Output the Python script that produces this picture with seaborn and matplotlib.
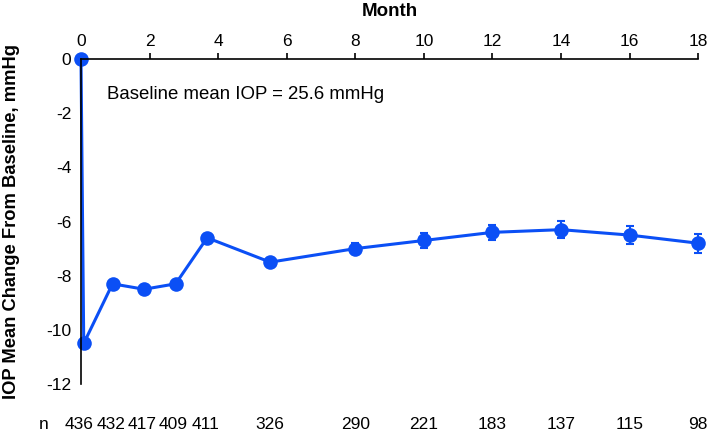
import matplotlib
matplotlib.use("Agg")
import matplotlib.pyplot as plt
import matplotlib.transforms as mtransforms
import seaborn as sns
import pandas as pd

# visit times in months (weeks / 4.33) and mean IOP change
months = [0, 0.08, 0.92, 1.84, 2.76, 3.68, 5.52, 8, 10, 12, 14, 16, 18]
iop_change = [0, -10.5, -8.3, -8.5, -8.3, -6.6, -7.5, -7.0, -6.7, -6.4, -6.3, -6.5, -6.8]
sem = [0, 0.12, 0.12, 0.12, 0.12, 0.15, 0.15, 0.2, 0.27, 0.29, 0.31, 0.33, 0.35]

# patients at each visit, as printed under the axis
n_patients = ["436", "432", "417", "409", "411", "326", "290", "221", "183", "137", "115", "98"]
n_label_months = [-0.05, 0.87, 1.78, 2.7, 3.63, 5.52, 8, 10, 12, 14, 16, 18]

x_ticks = [0, 2, 4, 6, 8, 10, 12, 14, 16, 18]
y_ticks = [0, -2, -4, -6, -8, -10, -12]

blue = "#0b4ff5"

sns.set_style("white")
plt.rcParams["font.family"] = ["Liberation Sans", "DejaVu Sans"]
plt.rcParams["text.color"] = "black"
plt.rcParams["axes.labelcolor"] = "black"
plt.rcParams["xtick.color"] = "black"
plt.rcParams["ytick.color"] = "black"

df = pd.DataFrame({"month": months, "change": iop_change, "sem": sem})

fig = plt.figure(figsize=(7.08, 4.32), dpi=100)
ax = fig.add_axes([0.1144, 0.111, 0.8716, 0.7524])

ax.errorbar(df["month"], df["change"], yerr=df["sem"], fmt="none",
            ecolor=blue, elinewidth=1.5, capsize=3, capthick=1.5, clip_on=False)
sns.lineplot(data=df, x="month", y="change", ax=ax, color=blue, linewidth=2.2,
             marker="o", markersize=10.5, markeredgewidth=0, clip_on=False)

ax.set_xlim(0, 18)
ax.set_ylim(-12, 0)
ax.set_xticks(x_ticks)
ax.set_yticks(y_ticks)
ax.set_yticklabels([str(t) for t in y_ticks])

ax.xaxis.tick_top()
ax.xaxis.set_label_position("top")
ax.spines["right"].set_visible(False)
ax.spines["bottom"].set_visible(False)
for s in ("top", "left"):
    ax.spines[s].set_color("black")
    ax.spines[s].set_linewidth(1.2)
ax.tick_params(axis="both", direction="out", length=4, width=1.2, color="black",
               labelsize=12.5, pad=3)
ax.set_zorder(2)

ax.set_xlabel("Month", fontsize=13.5, fontweight="bold", labelpad=13)
ax.set_ylabel("IOP Mean Change From Baseline, mmHg", fontsize=13.2, fontweight="bold", labelpad=19)

ax.text(0.76, -1.3, "Baseline mean IOP = 25.6 mmHg", fontsize=13.4, va="center", ha="left")

trans = mtransforms.blended_transform_factory(ax.transData, ax.transAxes)
for m, n in zip(n_label_months, n_patients):
    ax.text(m, -0.123, n, transform=trans, ha="center", va="center", fontsize=12.5)
ax.text(-1.1, -0.123, "n", transform=trans, ha="center", va="center", fontsize=12.5)

fig.savefig("out.png", dpi=100)
